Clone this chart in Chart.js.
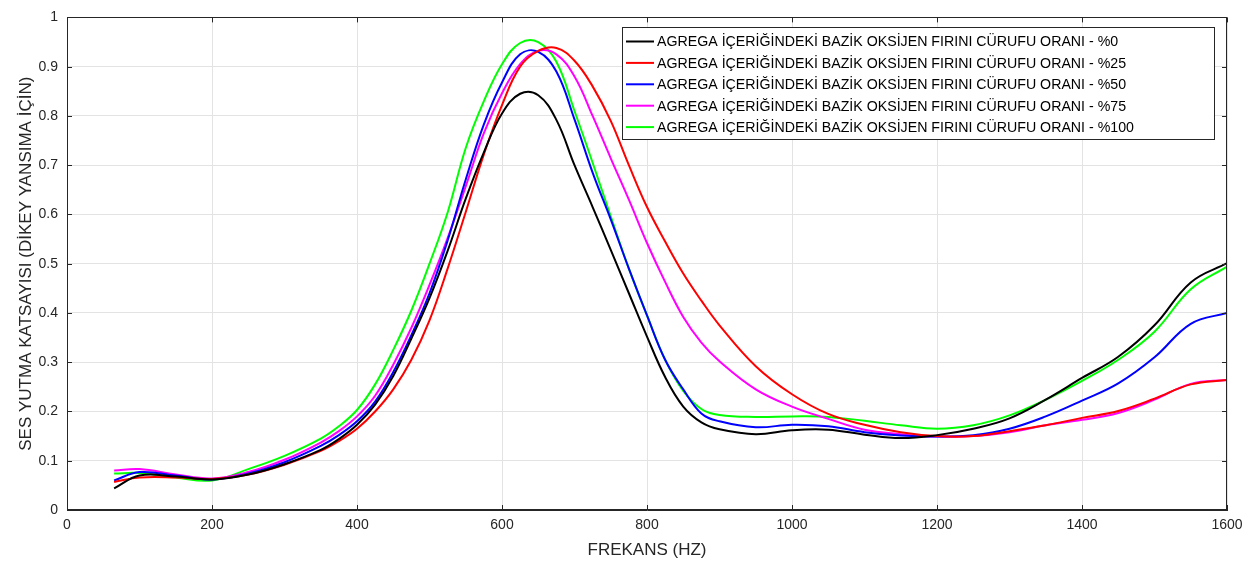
<!DOCTYPE html>
<html>
<head>
<meta charset="utf-8">
<script src="https://cdn.jsdelivr.net/npm/chart.js@4"></script>
<style>
  html, body { margin: 0; padding: 0; background: #fff; }
  #wrap { width: 1258px; height: 566px; position: relative; }
</style>
</head>
<body>
<div id="wrap"><canvas id="absChart"></canvas></div>
<script>
// frekans (Hz)
const freq = [65, 100, 150, 200, 250, 300, 350, 375, 400, 425, 450, 475, 500, 525, 550, 575, 600, 625, 650, 675, 700,
  725, 750, 775, 800, 825, 850, 875, 900, 950, 1000, 1050, 1100, 1150, 1200, 1250, 1300, 1350, 1400, 1450, 1500, 1550, 1600];

// ses yutma katsayisi, her oran icin
const p0 = [0.044, 0.070, 0.068, 0.062, 0.072, 0.093, 0.122, 0.144, 0.173, 0.214, 0.272, 0.348, 0.430, 0.526, 0.632, 0.726, 0.805, 0.845, 0.842, 0.792, 0.700,
  0.615, 0.528, 0.440, 0.352, 0.270, 0.210, 0.178, 0.164, 0.154, 0.162, 0.163, 0.153, 0.146, 0.152, 0.165, 0.186, 0.224, 0.268, 0.311, 0.375, 0.462, 0.501];
const p25 = [0.057, 0.066, 0.066, 0.063, 0.072, 0.092, 0.120, 0.140, 0.165, 0.200, 0.245, 0.305, 0.385, 0.490, 0.605, 0.722, 0.822, 0.900, 0.932, 0.938, 0.912,
  0.860, 0.790, 0.700, 0.615, 0.545, 0.480, 0.425, 0.375, 0.292, 0.235, 0.195, 0.173, 0.158, 0.150, 0.150, 0.160, 0.172, 0.187, 0.201, 0.226, 0.255, 0.264];
const p50 = [0.060, 0.077, 0.070, 0.062, 0.074, 0.097, 0.130, 0.152, 0.180, 0.220, 0.280, 0.355, 0.440, 0.547, 0.671, 0.783, 0.868, 0.925, 0.930, 0.890, 0.793,
  0.685, 0.590, 0.490, 0.395, 0.305, 0.245, 0.196, 0.180, 0.168, 0.173, 0.170, 0.158, 0.151, 0.149, 0.152, 0.165, 0.190, 0.222, 0.257, 0.310, 0.378, 0.400];
const p75 = [0.080, 0.083, 0.072, 0.064, 0.077, 0.102, 0.137, 0.160, 0.190, 0.232, 0.295, 0.370, 0.457, 0.552, 0.657, 0.765, 0.846, 0.905, 0.932, 0.925, 0.880,
  0.800, 0.714, 0.630, 0.542, 0.463, 0.392, 0.340, 0.302, 0.245, 0.210, 0.185, 0.163, 0.154, 0.149, 0.150, 0.158, 0.172, 0.183, 0.197, 0.224, 0.256, 0.264];
const p100 = [0.074, 0.075, 0.066, 0.060, 0.083, 0.110, 0.145, 0.170, 0.203, 0.255, 0.325, 0.405, 0.500, 0.604, 0.735, 0.830, 0.905, 0.948, 0.950, 0.910, 0.810,
  0.705, 0.596, 0.490, 0.395, 0.305, 0.242, 0.205, 0.193, 0.189, 0.190, 0.189, 0.181, 0.172, 0.165, 0.172, 0.192, 0.224, 0.262, 0.305, 0.362, 0.448, 0.494];

const seriesNames = [
  'AGREGA İÇERİĞİNDEKİ BAZİK OKSİJEN FIRINI CÜRUFU ORANI - %0',
  'AGREGA İÇERİĞİNDEKİ BAZİK OKSİJEN FIRINI CÜRUFU ORANI - %25',
  'AGREGA İÇERİĞİNDEKİ BAZİK OKSİJEN FIRINI CÜRUFU ORANI - %50',
  'AGREGA İÇERİĞİNDEKİ BAZİK OKSİJEN FIRINI CÜRUFU ORANI - %75',
  'AGREGA İÇERİĞİNDEKİ BAZİK OKSİJEN FIRINI CÜRUFU ORANI - %100'
];
const seriesValues = [p0, p25, p50, p75, p100];
const seriesColors = ['#000000', '#ff0000', '#0000ff', '#ff00ff', '#00ff00'];

const FONT = '"Liberation Sans", Arial, sans-serif';
const AXIS = '#262626';

// cerceve + iceri dogru tik isaretleri (MATLAB gibi)
const boxPlugin = {
  id: 'box',
  afterDatasetsDraw(chart) {
    const { ctx, chartArea: a, scales } = chart;
    ctx.save();
    ctx.strokeStyle = AXIS;
    ctx.lineWidth = 1;
    ctx.strokeRect(Math.round(a.left) + 0.5, Math.round(a.top) + 0.5, Math.round(a.right - a.left) - 1, Math.round(a.bottom - a.top) - 1);
    const len = 5;
    ctx.beginPath();
    scales.x.ticks.forEach(t => {
      const px = Math.round(scales.x.getPixelForValue(t.value)) + 0.5;
      ctx.moveTo(px, a.bottom); ctx.lineTo(px, a.bottom - len);
      ctx.moveTo(px, a.top); ctx.lineTo(px, a.top + len);
    });
    scales.y.ticks.forEach(t => {
      const py = Math.round(scales.y.getPixelForValue(t.value)) + 0.5;
      ctx.moveTo(a.left, py); ctx.lineTo(a.left + len, py);
      ctx.moveTo(a.right, py); ctx.lineTo(a.right - len, py);
    });
    ctx.stroke();
    ctx.restore();
  }
};

// lejant grafigin icinde, sag ustte
const legendPlugin = {
  id: 'insideLegend',
  afterDraw(chart) {
    const ctx = chart.ctx;
    const x0 = 622, y0 = 27, w = 592, h = 112, rowH = 21.4;
    ctx.save();
    ctx.fillStyle = '#ffffff';
    ctx.fillRect(x0, y0, w, h);
    ctx.strokeStyle = AXIS;
    ctx.lineWidth = 1;
    ctx.strokeRect(x0 + 0.5, y0 + 0.5, w, h);
    ctx.font = '14.2px ' + FONT;
    ctx.textBaseline = 'middle';
    chart.data.datasets.forEach((ds, i) => {
      const cy = y0 + 14.5 + i * rowH;
      ctx.strokeStyle = ds.borderColor;
      ctx.lineWidth = 2;
      ctx.beginPath();
      ctx.moveTo(x0 + 4, cy); ctx.lineTo(x0 + 32, cy);
      ctx.stroke();
      ctx.fillStyle = '#000000';
      ctx.fillText(ds.label, x0 + 35, cy + 1);
    });
    ctx.restore();
  }
};

const datasets = seriesNames.map((name, i) => ({
  label: name,
  data: freq.map((f, k) => ({ x: f, y: seriesValues[i][k] })),
  borderColor: seriesColors[i],
  backgroundColor: seriesColors[i],
  borderWidth: 2,
  pointRadius: 0,
  tension: 0.4,
  fill: false
}));

new Chart(document.getElementById('absChart'), {
  type: 'line',
  data: { datasets },
  options: {
    responsive: true,
    maintainAspectRatio: false,
    animation: false,
    layout: { padding: { top: 12, right: 31, left: 0, bottom: 0 } },
    plugins: { legend: { display: false }, tooltip: { enabled: false } },
    scales: {
      x: {
        type: 'linear',
        min: 0, max: 1600,
        afterFit: s => { s.height = 56; },
        ticks: { stepSize: 200, color: AXIS, padding: 7, font: { family: FONT, size: 14 }, maxRotation: 0,
          callback: v => String(v) },
        grid: { color: '#e3e3e3', drawTicks: false, tickLength: 0 },
        border: { display: true, color: AXIS },
        title: { display: true, text: 'FREKANS (HZ)', color: AXIS, font: { family: FONT, size: 17 }, padding: { top: 0, bottom: 5 } }
      },
      y: {
        min: 0, max: 1,
        afterFit: s => { s.width = 67; },
        ticks: { stepSize: 0.1, color: AXIS, padding: 9, font: { family: FONT, size: 14 },
          callback: v => String(Math.round(v * 10) / 10) },
        grid: { color: '#e3e3e3', drawTicks: false, tickLength: 0 },
        border: { display: true, color: AXIS },
        title: { display: true, text: 'SES YUTMA KATSAYISI (DİKEY YANSIMA İÇİN)', color: AXIS, font: { family: FONT, size: 17 }, padding: { top: 16, bottom: 0 } }
      }
    }
  },
  plugins: [boxPlugin, legendPlugin]
});
</script>
</body>
</html>
